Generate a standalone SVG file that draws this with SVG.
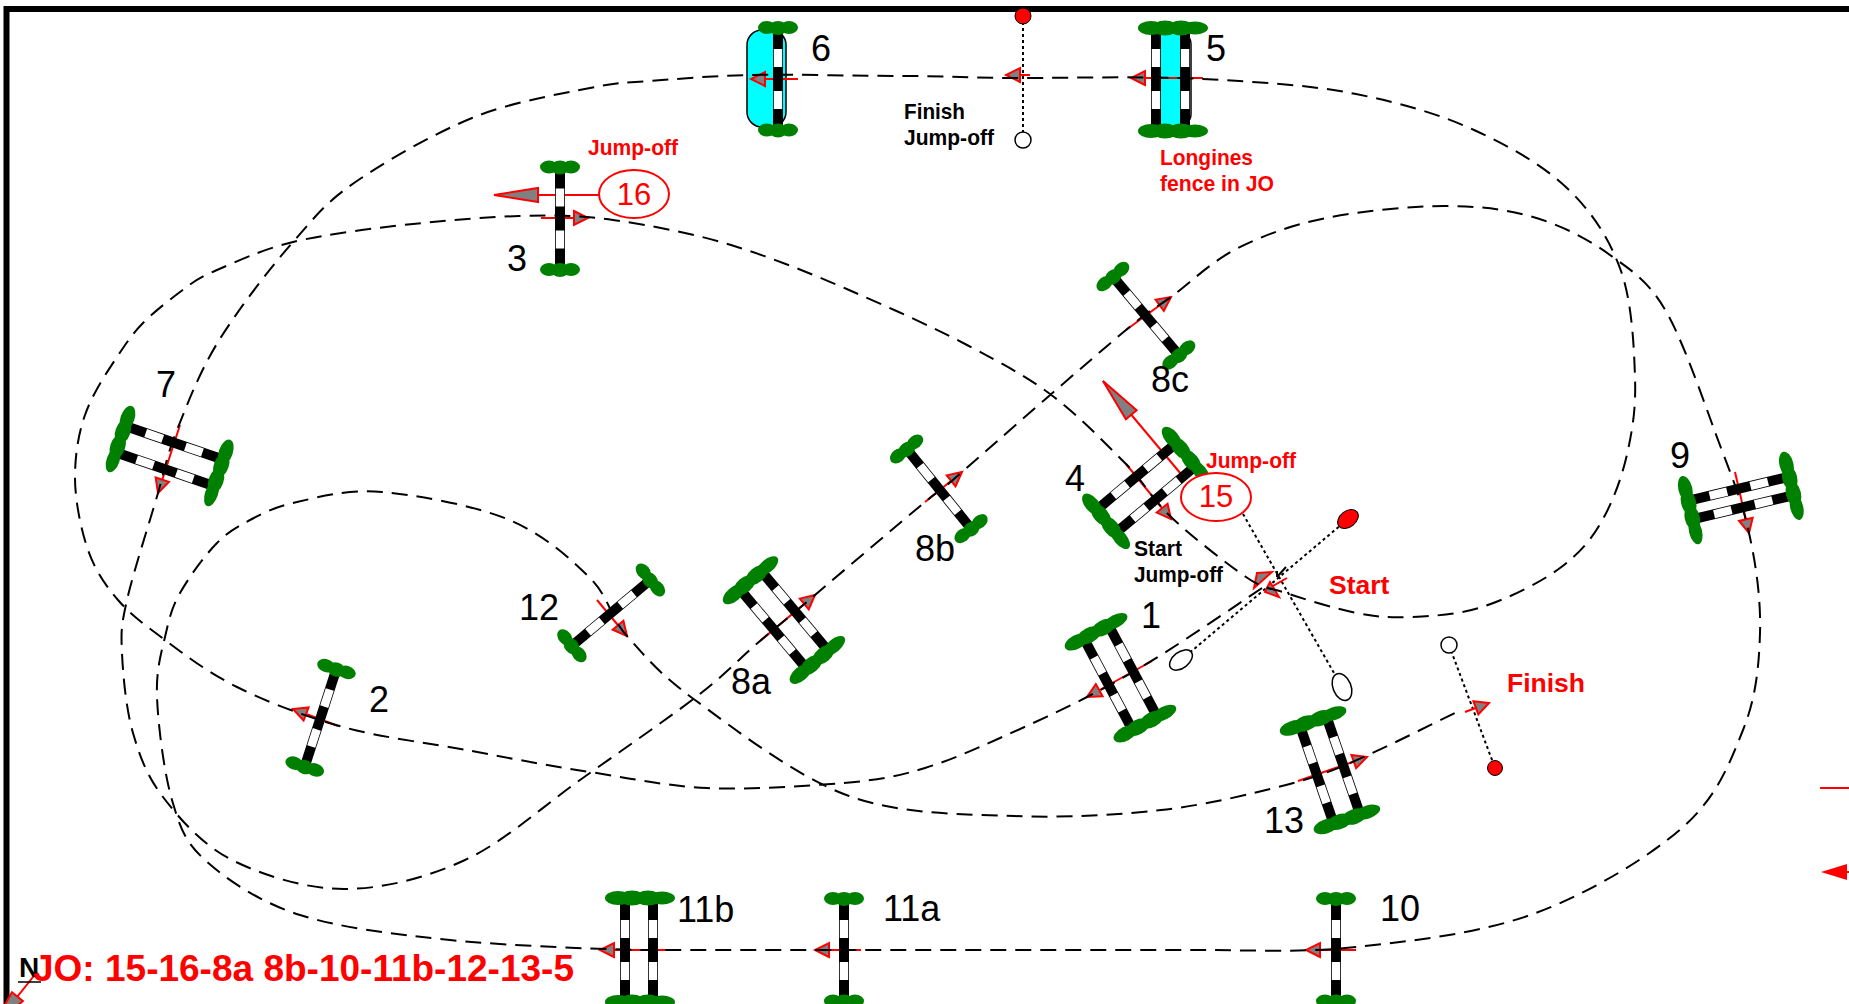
<svg xmlns="http://www.w3.org/2000/svg" width="1849" height="1004" viewBox="0 0 1849 1004">
<style>
text{font-family:"Liberation Sans",Arial,sans-serif}
.lb{font-size:36px;fill:#000}
.rb{font-weight:bold;font-size:22px;fill:#f00}
.kb{font-weight:bold;font-size:22px;fill:#000}
.rl{font-weight:bold;font-size:26.5px;fill:#f00}
.course{fill:none;stroke:#000;stroke-width:2;stroke-dasharray:16 9}
.dot{fill:none;stroke:#000;stroke-width:2;stroke-dasharray:3 3}
.ar{fill:none;stroke:#f00;stroke-width:2;marker-end:url(#ah)}
.arb{fill:none;stroke:#f00;stroke-width:2;marker-end:url(#ahb)}
.hd{fill:#808080;stroke:#f00;stroke-width:2}
</style>
<defs>
<marker id="ah" markerUnits="userSpaceOnUse" markerWidth="20" markerHeight="20" viewBox="-3 -10 20 20" refX="14" refY="0" orient="auto"><path d="M0,-7 L14,0 L0,7Z" fill="#808080" stroke="#f00" stroke-width="2"/></marker>
<marker id="ahb" markerUnits="userSpaceOnUse" markerWidth="50" markerHeight="20" viewBox="-3 -10 50 20" refX="44" refY="0" orient="auto"><path d="M0,-7 L44,0 L0,7Z" fill="#808080" stroke="#f00" stroke-width="2"/></marker>
<g id="rail"><rect x="-5" y="-47" width="10" height="94" fill="#000"/><rect x="-4.2" y="-30" width="8.4" height="18" fill="#fff"/><rect x="-4.2" y="12" width="8.4" height="18" fill="#fff"/></g>
<g id="ts" fill="#008000"><ellipse cx="-11" cy="0" rx="9" ry="6.5"/><ellipse cx="0" cy="0.5" rx="9" ry="7"/><ellipse cx="11" cy="0" rx="9" ry="6.5"/></g>
<g id="td" fill="#008000"><ellipse cx="-22" cy="0" rx="13" ry="7"/><ellipse cx="-8" cy="0" rx="13" ry="7.5"/><ellipse cx="8" cy="0" rx="13" ry="7.5"/><ellipse cx="22" cy="0" rx="13" ry="6.5"/></g>
<g id="f1"><use href="#rail"/><use href="#ts" y="-51.5"/><use href="#ts" y="51"/></g>
</defs>
<rect width="1849" height="1004" fill="#fff"/>
<path id="frame" d="M6.5,1004V9H1849" fill="none" stroke="#000" stroke-width="6"/>
<g id="water">
<rect x="747" y="30" width="39" height="97" rx="15" fill="#0ff" stroke="#000" stroke-width="1.5"/>
<rect x="1152" y="32" width="39" height="94" rx="12" fill="#fff" stroke="#000" stroke-width="1.5"/>
<rect x="1161" y="32" width="19" height="94" fill="#0ff"/>
</g>
<g id="connectors">
<path class="dot" d="M1023,16V140"/>
<path class="dot" d="M1348,519L1181,660"/>
<path class="dot" d="M1243,514L1342,687"/>
<path class="dot" d="M1449,645L1495,768"/>
<path class="ar" d="M798,79H751"/>
<path class="ar" d="M1030,75H1006"/>
<path class="ar" d="M1203,78H1131"/>
<path class="ar" d="M541,218H588"/>
<path class="ar" d="M1126,330L1171,297"/>
<path class="ar" d="M925,502L962,472"/>
<path class="ar" d="M760,641L815,595"/>
<path class="ar" d="M597,600L627,636"/>
<path class="ar" d="M338,726L293,709"/>
<path class="ar" d="M180,425L158,493"/>
<path class="ar" d="M1735,472L1749,533"/>
<path class="ar" d="M1126,464L1171,519"/>
<path class="ar" d="M1152,661L1087,697"/>
<path class="ar" d="M1298,781L1367,757"/>
<path class="ar" d="M1465,712L1489,703"/>
<path class="ar" d="M672,950H600"/>
<path class="ar" d="M861,950H815"/>
<path class="ar" d="M1356,950H1306"/>
<path d="M1287,578L1266,590" fill="none" stroke="#f00" stroke-width="2"/>
<path class="hd" d="M1257,573L1272,572L1254,588Z"/>
<path class="hd" d="M1270,582L1279,597L1265,592Z"/>
<path d="M1277,577L1286,567M1277,577V571" fill="none" stroke="#000" stroke-width="2"/>
<path class="arb" d="M1186,480L1103,381"/>
<path class="arb" d="M601,195H494"/>
<path class="arb" d="M37,972L-10,1031"/>
<path d="M1820,788H1849M1847,872H1849" stroke="#f00" stroke-width="2" fill="none"/>
<path d="M1821,872L1847,864V880Z" fill="#f00"/>
<path class="course" d="M1262,588S1190,637 1161,655S1114,683 1087,697S1027,726 1000,738S951,760 925,768S879,780 843,783S749,790 707,788S629,778 590,772S513,759 472,751S382,738 343,727S267,702 237,687S185,655 165,640S131,615 118,600S95,570 88,550S75,500 75,478S78,435 85,415S105,375 115,360S132,334 143,323S168,301 180,292S198,278 217,270S260,250 293,242S375,228 413,224S486,217 519,216S578,215 613,220S692,233 731,245S810,273 849,290S933,327 967,345S1028,377 1054,397S1105,443 1125,463S1151,498 1171,517S1227,564 1246,577S1268,587 1286,593S1336,609 1357,613S1390,618 1411,617S1457,615 1482,607S1540,583 1560,568S1592,539 1603,519S1623,474 1628,450S1636,407 1635,377S1632,302 1621,271S1593,213 1568,189S1509,146 1474,130S1401,103 1356,94S1258,82 1203,79S1073,78 1023,78S945,76 900,76S792,74 750,75S677,79 650,81S620,82 590,88S511,102 472,118S384,162 354,183S316,216 293,242S237,311 218,342S187,405 177,430S166,465 158,493S133,573 127,600S121,631 122,653S126,709 133,733S147,776 163,797S202,845 232,860S305,889 344,889S426,878 465,860S542,807 580,780S666,720 696,697S740,658 760,641S788,618 815,595S901,522 925,502S929,501 962,472S1091,359 1126,330S1152,311 1171,297S1212,261 1238,248S1292,225 1326,218S1410,206 1444,206S1505,209 1533,217S1588,239 1610,255S1649,281 1667,313S1707,411 1721,448S1742,502 1749,533S1761,600 1760,633S1756,698 1743,730S1718,796 1683,827S1588,894 1533,914S1411,941 1356,947S1250,950 1200,950L650,950C617,950 508,946 450,940S341,928 300,915S226,879 205,860S180,827 172,800S158,724 157,697S161,654 165,637S171,609 180,593S205,555 217,543S237,527 250,520S275,507 297,502S347,489 382,492S472,505 507,519S570,558 590,578S609,616 627,636S658,673 695,700S796,777 849,796S962,814 1014,816S1116,815 1161,810S1251,794 1286,785S1339,768 1368,755S1430,725 1461,710"/>
</g>
<g id="fence-1"><g transform="translate(1120.5 677.5) rotate(-28)"><use href="#rail" x="-14"/><use href="#rail" x="14"/><use href="#td" y="-52"/><use href="#td" y="52"/></g><text class="lb" x="1141" y="628">1</text></g>
<g id="fence-2"><use href="#f1" transform="translate(320.5 718) rotate(18)"/><text class="lb" x="369" y="712">2</text></g>
<g id="fence-3"><use href="#f1" transform="translate(560 218.5)"/><text class="lb" x="507" y="271">3</text></g>
<g id="fence-4"><g transform="translate(1146 488) rotate(50)"><use href="#rail" x="-15"/><use href="#rail" x="15"/><use href="#td" y="-52"/><use href="#td" y="52"/></g><text class="lb" x="1065" y="491">4</text></g>
<g id="fence-5"><use href="#rail" transform="translate(1156 79)"/><use href="#rail" transform="translate(1185 79)"/><use href="#td" transform="translate(1173 28)"/><use href="#td" transform="translate(1173 131)"/><text class="lb" x="1206" y="61">5</text></g>
<g id="fence-6"><use href="#f1" transform="translate(778 79)"/><text class="lb" x="811" y="61">6</text></g>
<g id="fence-7"><g transform="translate(169.5 456) rotate(109)"><use href="#rail" x="-14"/><use href="#rail" x="14"/><use href="#td" y="-52"/><use href="#td" y="52"/></g><text class="lb" x="156" y="397">7</text></g>
<g id="fence-8a"><g transform="translate(784 620) rotate(-40)"><use href="#rail" x="-14"/><use href="#rail" x="14"/><use href="#td" y="-52"/><use href="#td" y="52"/></g><text class="lb" x="731" y="694">8a</text></g>
<g id="fence-8b"><use href="#f1" transform="translate(939 489) rotate(-39)"/><text class="lb" x="915" y="561">8b</text></g>
<g id="fence-8c"><use href="#f1" transform="translate(1146 316) rotate(-40)"/><text class="lb" x="1151" y="392">8c</text></g>
<g id="fence-9"><g transform="translate(1741 498) rotate(76.5)"><use href="#rail" x="-9.5"/><use href="#rail" x="9.5"/><use href="#td" y="-52"/><use href="#td" y="52"/></g><text class="lb" x="1670" y="468">9</text></g>
<g id="fence-10"><use href="#f1" transform="translate(1336 950)"/><text class="lb" x="1380" y="921">10</text></g>
<g id="fence-11a"><use href="#f1" transform="translate(844 950)"/><text class="lb" x="883" y="921">11a</text></g>
<g id="fence-11b"><use href="#rail" transform="translate(625 950)"/><use href="#rail" transform="translate(653 950)"/><use href="#td" transform="translate(640 898)"/><use href="#td" transform="translate(640 1002)"/><text class="lb" x="677" y="922">11b</text></g>
<g id="fence-12"><use href="#f1" transform="translate(611 613) rotate(50)"/><text class="lb" x="519" y="620">12</text></g>
<g id="fence-13"><g transform="translate(1330 770) rotate(-19)"><use href="#rail" x="-14"/><use href="#rail" x="14"/><use href="#td" y="-52"/><use href="#td" y="52"/></g><text class="lb" x="1264" y="833">13</text></g>
<g id="gates">
<circle cx="1023" cy="16" r="8" fill="#f00" stroke="#000" stroke-width="1"/>
<circle cx="1023" cy="140" r="8" fill="#fff" stroke="#000" stroke-width="1.5"/>
<ellipse cx="1348" cy="519" rx="11.5" ry="8" transform="rotate(-38 1348 519)" fill="#f00" stroke="#000" stroke-width="1"/>
<ellipse cx="1181" cy="660" rx="13" ry="8" transform="rotate(-38 1181 660)" fill="#fff" stroke="#000" stroke-width="1.5"/>
<ellipse cx="1342" cy="687" rx="9" ry="14" transform="rotate(-22 1342 687)" fill="#fff" stroke="#000" stroke-width="1.5"/>
<circle cx="1449" cy="645" r="8" fill="#fff" stroke="#000" stroke-width="1.5"/>
<circle cx="1495" cy="768" r="7.5" fill="#f00" stroke="#000" stroke-width="1"/>
</g>
<g id="jo-15"><ellipse cx="1216" cy="497" rx="35" ry="24" fill="#fff" stroke="#f00" stroke-width="2"/><text x="1216" y="507" font-size="31" fill="#f00" text-anchor="middle">15</text><text class="rb" x="1206" y="468" textLength="90" lengthAdjust="spacingAndGlyphs">Jump-off</text></g>
<g id="jo-16"><ellipse cx="634" cy="194" rx="35" ry="24" fill="#fff" stroke="#f00" stroke-width="2"/><text x="634" y="205" font-size="31" fill="#f00" text-anchor="middle">16</text><text class="rb" x="588" y="155" textLength="90" lengthAdjust="spacingAndGlyphs">Jump-off</text></g>
<g id="labels">
<text class="kb" x="904" y="119" textLength="61" lengthAdjust="spacingAndGlyphs">Finish</text>
<text class="kb" x="904" y="145" textLength="90" lengthAdjust="spacingAndGlyphs">Jump-off</text>
<text class="rb" x="1160" y="165" textLength="93" lengthAdjust="spacingAndGlyphs">Longines</text>
<text class="rb" x="1160" y="191" textLength="114" lengthAdjust="spacingAndGlyphs">fence in JO</text>
<text class="kb" x="1134" y="556" textLength="48" lengthAdjust="spacingAndGlyphs">Start</text>
<text class="kb" x="1134" y="582" textLength="89" lengthAdjust="spacingAndGlyphs">Jump-off</text>
<text class="rl" x="1329" y="594">Start</text>
<text class="rl" x="1507" y="692">Finish</text>
<text x="19" y="977" font-size="28" font-weight="bold" fill="#000">N</text>
<path d="M18,982H41" stroke="#000" stroke-width="1.5"/>
<text x="33" y="981" font-size="37" font-weight="bold" fill="#f00" textLength="541" lengthAdjust="spacingAndGlyphs">JO: 15-16-8a 8b-10-11b-12-13-5</text>
</g>
</svg>
